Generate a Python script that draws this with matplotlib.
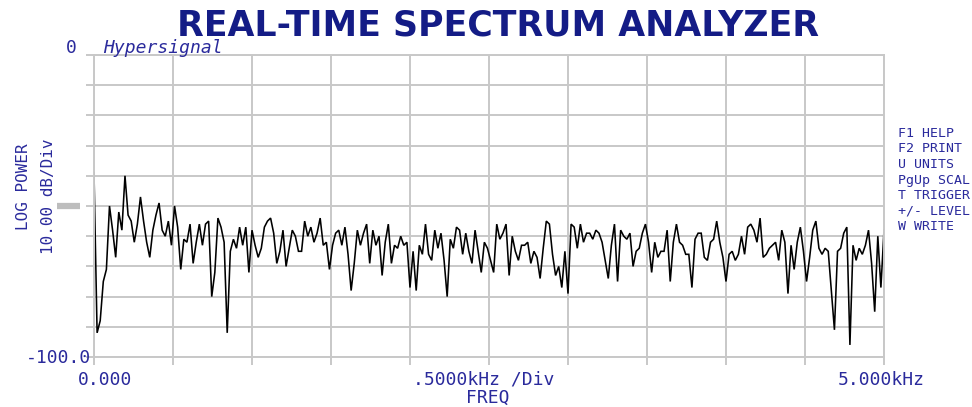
"""
Real-time spectrum analyzer screen (Hypersignal style)
"""

import numpy as np
import matplotlib
matplotlib.use("Agg")
import matplotlib.pyplot as plt
import matplotlib.transforms as mtransforms


# ============================================================
# 0. data
# ============================================================
F_MAX_KHZ = 5.0          # full span
N_BINS = 256             # spectrum bins from 0 to 5 kHz
DB_TOP, DB_BOTTOM = 0.0, -100.0
REF_LEVEL_DB = -50.0     # grey marker on the left

# log power per bin (dB)
power_db = [
    -39, -92, -88, -75, -71, -50, -58, -67, -52, -58, -40, -53, -55, -62, -56, -47,
    -55, -62, -67, -58, -53, -49, -58, -60, -55, -63, -50, -57, -71, -61, -62, -56,
    -69, -62, -56, -63, -56,
    -55, -80, -72, -54, -57, -62, -92, -65, -61, -64, -57, -63, -57, -72, -58, -63,
    -67, -64, -57, -55, -54, -59, -69, -65, -58, -70, -64, -58, -60, -65, -65, -55,
    -60, -57, -62, -59, -54,
    -63, -62, -71, -63, -59, -58, -63, -57, -66, -78, -69, -58, -63, -59, -56, -69,
    -58, -63, -60, -73, -62, -56, -69, -63, -64, -60, -63, -62, -77, -65, -78, -63,
    -66, -56, -66, -68, -58,
    -64, -59, -68, -80, -61, -64, -57, -58, -66, -59, -65, -69, -58, -65, -72, -62,
    -64, -68, -72, -56, -61, -59, -56, -73, -60, -65, -68, -63, -63, -62, -69, -65,
    -67, -74, -64, -55,
    -56, -66, -73, -70, -77, -65, -79, -56, -57, -64, -56, -62, -59, -59, -61, -58,
    -59, -62, -68, -74, -63, -56, -75, -58, -60, -61, -59, -70, -65, -64, -59, -56,
    -62, -72, -62, -67, -65,
    -65, -58, -75, -62, -56, -62, -63, -66, -66, -77, -61, -59, -59, -67, -68, -62,
    -61, -55, -62, -67, -75, -66, -65, -68, -66, -60, -66, -57, -56, -58, -62, -54,
    -67, -66, -64, -63,
    -62, -68, -58, -62, -79, -63, -71, -62, -57, -65, -75, -67, -58, -55, -64, -66,
    -64, -65, -78, -91, -65, -64, -59, -57, -96, -63, -68, -64, -66, -63, -58, -69,
    -85, -60, -77, -58,
]

menu_items = ["F1 HELP", "F2 PRINT", "U UNITS", "PgUp SCAL",
              "T TRIGGER", "+/- LEVEL", "W WRITE"]

# ============================================================
# 1. style
# ============================================================
W, H = 972, 407
GRID_C = "#c8c8c8"
BLUE = "#2a2a9c"
TITLE_C = "#141c86"
MONO = ["DejaVu Sans Mono"]


def fx(px):
    return px / W


def fy(py):
    return 1 - py / H


def main():
    freqs = np.linspace(0, F_MAX_KHZ, N_BINS)
    power = np.array(power_db, dtype=float)

    fig = plt.figure(figsize=(W / 100, H / 100), dpi=100)
    fig.patch.set_facecolor("white")
    ax = fig.add_axes([fx(94), fy(357), fx(884) - fx(94), fy(55) - fy(357)])

    ax.plot(freqs, power, color="black", lw=1.15, solid_joinstyle="miter")

    ax.set_xlim(0, F_MAX_KHZ)
    ax.set_ylim(DB_BOTTOM, DB_TOP)
    ax.set_xticks(np.linspace(0, F_MAX_KHZ, 11))
    ax.set_yticks(np.linspace(DB_BOTTOM, DB_TOP, 11))
    ax.grid(True, color=GRID_C, lw=1.4)
    ax.set_axisbelow(True)
    ax.tick_params(length=6, width=1.4, color=GRID_C,
                   labelbottom=False, labelleft=False)
    for sp in ax.spines.values():
        sp.set_color(GRID_C)
        sp.set_linewidth(1.4)

    # reference level marker
    trans = mtransforms.blended_transform_factory(fig.transFigure, ax.transData)
    ax.plot([fx(57), fx(80)], [REF_LEVEL_DB, REF_LEVEL_DB], transform=trans,
            color="#bdbdbd", lw=4.5, solid_capstyle="butt", clip_on=False)

    # title
    fig.text(fx(498), fy(35), "REAL-TIME SPECTRUM ANALYZER", ha="center",
             va="baseline", fontsize=25, fontweight="bold", color=TITLE_C,
             family=["DejaVu Sans"])
    fig.text(fx(103), fy(53), "Hypersignal", ha="left", va="baseline",
             fontsize=13, style="italic", color=BLUE, family=MONO)

    # y labels
    fig.text(fx(77), fy(53), "0", ha="right", va="baseline",
             fontsize=13, color=BLUE, family=MONO)
    fig.text(fx(91), fy(363), "-100.0", ha="right", va="baseline",
             fontsize=13, color=BLUE, family=MONO)
    fig.text(fx(24), fy(187), "LOG POWER", rotation=90, ha="center",
             va="center", fontsize=11.5, color=BLUE, family=MONO)
    fig.text(fx(48), fy(196), "10.00 dB/Div", rotation=90, ha="center",
             va="center", fontsize=11.5, color=BLUE, family=MONO)

    # x labels
    fig.text(fx(78), fy(385), "0.000", ha="left", va="baseline",
             fontsize=13, color=BLUE, family=MONO)
    fig.text(fx(413), fy(385), ".5000kHz /Div", ha="left", va="baseline",
             fontsize=13, color=BLUE, family=MONO)
    fig.text(fx(838), fy(385), "5.000kHz", ha="left", va="baseline",
             fontsize=13, color=BLUE, family=MONO)
    fig.text(fx(488), fy(403), "FREQ", ha="center", va="baseline",
             fontsize=13, color=BLUE, family=MONO)

    # key menu
    for k, item in enumerate(menu_items):
        fig.text(fx(898), fy(137 + 15.5 * k), item, ha="left", va="baseline",
                 fontsize=9.5, color=BLUE, family=MONO)

    fig.savefig("out.png", dpi=100)
    plt.close(fig)


if __name__ == "__main__":
    main()
